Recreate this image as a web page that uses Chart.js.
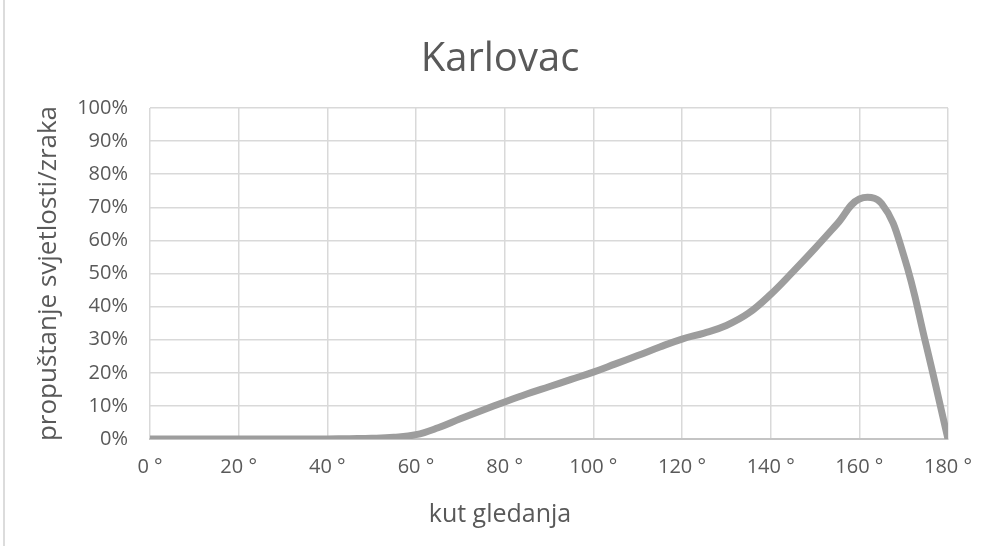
<!DOCTYPE html>
<html>
<head>
<meta charset="utf-8">
<script src="https://cdn.jsdelivr.net/npm/chart.js@4"></script>
<style>
  html, body { margin: 0; padding: 0; background: #fff; }
  #wrap { width: 1000px; height: 550px; position: relative; }
  #frame { position: absolute; left: 3px; top: 0; width: 0; height: 546px; border-left: 2px solid #dcdcdc; }
</style>
</head>
<body>
<div id="wrap"><div id="frame"></div><canvas id="myChart"></canvas></div>
<script>
// viewing angle (degrees) and transmission (%)
const angles = [0, 5, 10, 15, 20, 25, 30, 35, 40, 45, 50, 55, 60, 65, 70, 75, 80, 85, 90,
                95, 100, 105, 110, 115, 120, 125, 130, 135, 140, 145, 150, 155, 160, 165, 170, 175, 180];
const transmission = [0, 0, 0, 0, 0, 0, 0, 0, 0, 0.1, 0.2, 0.5, 1.3, 3.4, 6.1, 8.7, 11.2, 13.6, 15.8,
                      18, 20.2, 22.7, 25.2, 27.8, 30.2, 32, 34.3, 38, 43.7, 50.5, 57.6, 65, 72.5, 71.2, 55.5, 28.8, 0];
const xTicks = [0, 20, 40, 60, 80, 100, 120, 140, 160, 180];
const yTicks = [0, 10, 20, 30, 40, 50, 60, 70, 80, 90, 100];

const textColor = '#595959';
const fontFamily = "'Open Sans', 'DejaVu Sans', sans-serif";

var points = angles.map((a, i) => ({ x: a, y: transmission[i] }));

var context = document.getElementById('myChart').getContext('2d');
var myChart = new Chart(context, {
  type: 'line',
  data: {
    datasets: [{
      label: 'Karlovac',
      data: points,
      borderColor: '#9d9d9d',
      borderWidth: 7,
      pointRadius: 0,
      tension: 0.4,
      fill: false
    }]
  },
  options: {
    responsive: true,
    maintainAspectRatio: false,
    animation: false,
    layout: { padding: { left: 52, right: 52, top: 0, bottom: 0 } },
    plugins: {
      legend: { display: false },
      tooltip: { enabled: false },
      title: {
        display: true,
        text: 'Karlovac',
        color: textColor,
        font: { family: fontFamily, size: 40, weight: 'normal' },
        padding: { top: 36, bottom: 24 }
      },
      // x axis title, centred on the whole chart like the original
      subtitle: {
        display: true,
        position: 'bottom',
        text: 'kut gledanja',
        color: textColor,
        font: { family: fontFamily, size: 25, weight: 'normal' },
        padding: { top: 0, bottom: 20 }
      }
    },
    scales: {
      x: {
        type: 'linear',
        min: 0,
        max: 180,
        afterBuildTicks: axis => { axis.ticks = xTicks.map(v => ({ value: v })); },
        afterFit: axis => { axis.height = 61; },
        grid: { color: '#d9d9d9', lineWidth: 1.5, drawTicks: false },
        border: { color: '#c4c4c4', width: 2 },
        ticks: {
          color: textColor,
          padding: 16,
          maxRotation: 0,
          font: { family: fontFamily, size: 20 },
          callback: v => v + ' °'
        }
      },
      y: {
        min: 0,
        max: 100,
        afterBuildTicks: axis => { axis.ticks = yTicks.map(v => ({ value: v })); },
        afterFit: axis => { axis.width = 98; },
        grid: { color: '#d9d9d9', lineWidth: 1.5, drawTicks: false },
        border: { display: false },
        ticks: {
          color: textColor,
          padding: 22,
          font: { family: fontFamily, size: 20 },
          callback: v => v + '%'
        },
        title: {
          display: true,
          text: 'propuštanje svjetlosti/zraka',
          color: textColor,
          font: { family: fontFamily, size: 26 },
          padding: { top: -19, bottom: 0 }
        }
      }
    }
  }
});
</script>
</body>
</html>
